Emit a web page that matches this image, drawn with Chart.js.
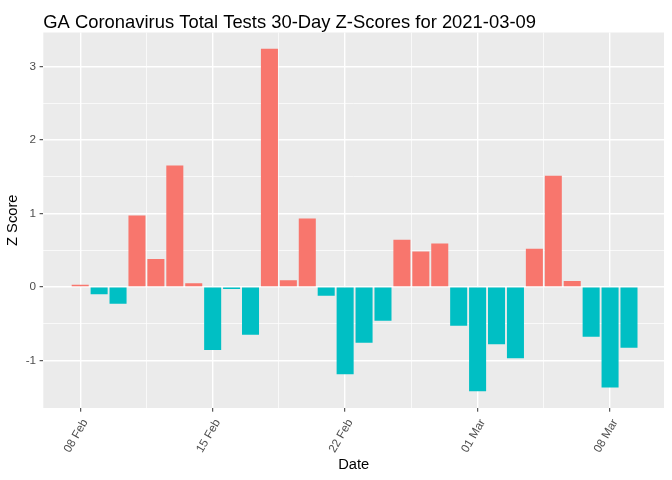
<!DOCTYPE html>
<html>
<head>
<meta charset="utf-8">
<script src="https://cdn.jsdelivr.net/npm/chart.js@4/dist/chart.umd.min.js"></script>
<style>
  html, body { margin: 0; padding: 0; background: #fff; }
  #wrap { width: 672px; height: 480px; }
</style>
</head>
<body>
<div id="wrap"><canvas id="chart"></canvas></div>
<script>
// Dates shown (30 days ending 2021-03-09)
const dates = [
    '2021-02-08', '2021-02-09', '2021-02-10', '2021-02-11', '2021-02-12',
    '2021-02-13', '2021-02-14', '2021-02-15', '2021-02-16', '2021-02-17',
    '2021-02-18', '2021-02-19', '2021-02-20', '2021-02-21', '2021-02-22',
    '2021-02-23', '2021-02-24', '2021-02-25', '2021-02-26', '2021-02-27',
    '2021-02-28', '2021-03-01', '2021-03-02', '2021-03-03', '2021-03-04',
    '2021-03-05', '2021-03-06', '2021-03-07', '2021-03-08', '2021-03-09'
];

// Z score per day
const zScores = [
    0.03, -0.10, -0.23, 0.97, 0.38,
    1.65, 0.05, -0.86, -0.03, -0.65,
    3.24, 0.09, 0.93, -0.12, -1.19,
    -0.76, -0.46, 0.64, 0.48, 0.59,
    -0.53, -1.42, -0.78, -0.97, 0.52,
    1.51, 0.08, -0.68, -1.37, -0.83
];

// x axis labels (index into dates)
const xTickDays = [0, 7, 14, 21, 28];
const xTickLabels = ['08 Feb', '15 Feb', '22 Feb', '01 Mar', '08 Mar'];

const POS_COLOR = '#F8766D';
const NEG_COLOR = '#00BFC4';

// grey ggplot panel
const panelBg = {
    id: 'panelBg',
    beforeDraw(chart) {
        const a = chart.chartArea;
        const ctx = chart.ctx;
        ctx.save();
        ctx.fillStyle = '#EBEBEB';
        ctx.fillRect(a.left, a.top, a.right - a.left, a.bottom - a.top);
        ctx.restore();
    }
};

// left aligned title above the panel
const plotTitle = {
    id: 'plotTitle',
    afterDraw(chart) {
        const ctx = chart.ctx;
        ctx.save();
        ctx.fillStyle = '#000';
        ctx.font = '18.4px "Liberation Sans", Arial, sans-serif';
        ctx.textAlign = 'left';
        ctx.textBaseline = 'alphabetic';
        ctx.fillText('GA Coronavirus Total Tests 30-Day Z-Scores for 2021-03-09', chart.chartArea.left, 27.5);
        ctx.restore();
    }
};

const isMajor = v => Math.abs(v - Math.round(v)) < 1e-6;
const tickVal = ctx => (ctx && ctx.tick ? ctx.tick.value : NaN);
const isXMajor = ctx => xTickDays.includes(tickVal(ctx));
const isYMajor = ctx => isMajor(tickVal(ctx));

new Chart(document.getElementById('chart'), {
    type: 'bar',
    data: {
        datasets: [{
            data: zScores.map((z, i) => ({ x: i, y: z })),
            backgroundColor: ctx => (ctx.raw && ctx.raw.y >= 0 ? POS_COLOR : NEG_COLOR),
            borderWidth: 0,
            barPercentage: 0.9,
            categoryPercentage: 1.0
        }]
    },
    options: {
        responsive: true,
        maintainAspectRatio: false,
        animation: false,
        layout: { padding: { left: 0, right: 8, top: 32.5, bottom: 0 } },
        plugins: {
            legend: { display: false },
            tooltip: { enabled: false }
        },
        scales: {
            x: {
                type: 'linear',
                offset: false,
                min: -1.95,
                max: 30.85,
                afterBuildTicks(scale) {
                    const t = [];
                    xTickDays.forEach((d, i) => {
                        t.push({ value: d });
                        if (i < xTickDays.length - 1) t.push({ value: (d + xTickDays[i + 1]) / 2 });
                    });
                    scale.ticks = t;
                },
                afterFit(scale) { scale.height = 72; },
                border: { display: false },
                grid: {
                    offset: false,
                    color: '#FFFFFF',
                    lineWidth: ctx => (isXMajor(ctx) ? 1.4 : 0.7),
                    tickColor: ctx => (isXMajor(ctx) ? '#333333' : 'rgba(0,0,0,0)'),
                    tickWidth: 1,
                    tickLength: 3.7,
                    drawTicks: true
                },
                ticks: {
                    autoSkip: false,
                    minRotation: 60,
                    maxRotation: 60,
                    padding: 5,
                    labelOffset: 5,
                    color: '#4D4D4D',
                    font: { family: '"Liberation Sans", Arial, sans-serif', size: 11.7 },
                    callback: v => {
                        const i = xTickDays.indexOf(v);
                        return i >= 0 ? xTickLabels[i] : '';
                    }
                },
                title: {
                    display: true,
                    text: 'Date',
                    color: '#000',
                    padding: { top: 0, bottom: 6 },
                    font: { family: '"Liberation Sans", Arial, sans-serif', size: 14.7 }
                }
            },
            y: {
                min: -1.648,
                max: 3.46,
                afterBuildTicks(scale) {
                    scale.ticks = scale.ticks.filter(t => Math.abs(t.value * 2 - Math.round(t.value * 2)) < 1e-6);
                },
                afterFit(scale) { scale.width = 43.3; },
                border: { display: false },
                grid: {
                    color: '#FFFFFF',
                    lineWidth: ctx => (isYMajor(ctx) ? 1.4 : 0.7),
                    tickColor: ctx => (isYMajor(ctx) ? '#333333' : 'rgba(0,0,0,0)'),
                    tickWidth: 1,
                    tickLength: 3.7
                },
                ticks: {
                    stepSize: 0.5,
                    padding: 3.5,
                    color: '#4D4D4D',
                    font: { family: '"Liberation Sans", Arial, sans-serif', size: 11.7 },
                    callback: v => (isMajor(v) ? String(Math.round(v)) : '')
                },
                title: {
                    display: true,
                    text: 'Z Score',
                    color: '#000',
                    padding: { top: 4, bottom: 0 },
                    font: { family: '"Liberation Sans", Arial, sans-serif', size: 14.7 }
                }
            }
        }
    },
    plugins: [panelBg, plotTitle]
});
</script>
</body>
</html>
